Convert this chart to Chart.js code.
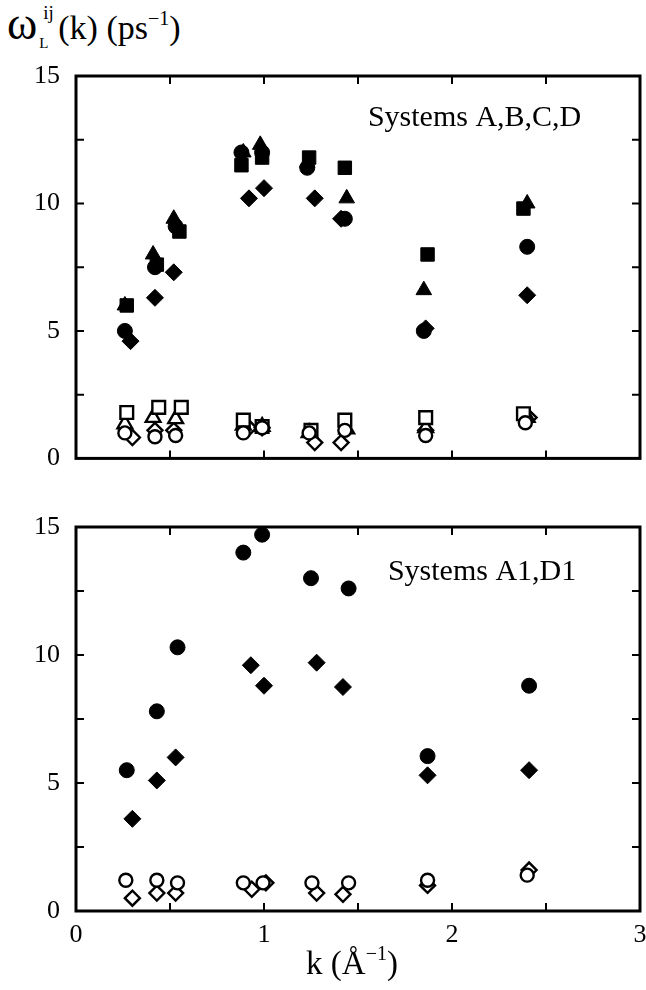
<!DOCTYPE html>
<html lang="en">
<head>
<meta charset="UTF-8">
<title>omega_L(k)</title>
<style>
  body { margin: 0; background: #fff; }
  .wrap { position: relative; width: 646px; height: 990px; font-family: "Liberation Serif", serif; color: #000; }
  canvas { position: absolute; left: 0; }
  #c1 { top: 0; }
  #c2 { top: 490px; }
  .ylab { position: absolute; left: 7px; top: 5px; font-size: 34px; white-space: nowrap; }
  .ylab .om { font-size: 46px; line-height: 34px; }
  .ss { display: inline-block; position: relative; width: 21px; height: 1em; }
  .ss .sp { position: absolute; left: 6px; top: -3px; font-size: 19px; }
  .ss .sb { position: absolute; left: 2px; top: 30px; font-size: 15px; }
  .ylab sup { font-size: 20px; vertical-align: 14px; }
  .xlab { position: absolute; left: 0; width: 704px; text-align: center; top: 942px; font-size: 33px; }
  .xlab sup { font-size: 20px; vertical-align: 14px; }
</style>
</head>
<body>
<div class="wrap">
  <div class="ylab"><span class="om">ω</span><span class="ss"><span class="sp">ij</span><span class="sb">L</span></span>(k) (ps<sup>−1</sup>)</div>
  <canvas id="c1" width="646" height="490"></canvas>
  <canvas id="c2" width="646" height="500"></canvas>
  <div class="xlab">k (Å<sup>−1</sup>)</div>
</div>

<script src="https://cdn.jsdelivr.net/npm/chart.js"></script>
<script>
  // axis ticks
  const xTicks = [0, 0.5, 1, 1.5, 2, 2.5, 3];
  const yTicks = [0, 2.5, 5, 7.5, 10, 12.5, 15];

  // top panel: systems A,B,C,D (filled and open symbols)
  const kFilledCircle = [0.26, 0.42, 0.53, 0.88, 0.99, 1.23, 1.43, 1.85, 2.40];
  const wFilledCircle = [5.0, 7.5, 9.1, 12.0, 12.0, 11.4, 9.4, 5.0, 8.3];
  const kFilledSquare = [0.27, 0.43, 0.55, 0.88, 0.99, 1.24, 1.43, 1.87, 2.38];
  const wFilledSquare = [6.0, 7.6, 8.9, 11.5, 11.8, 11.8, 11.4, 8.0, 9.8];
  const kFilledTri = [0.26, 0.41, 0.52, 0.89, 0.98, 1.23, 1.44, 1.85, 2.40];
  const wFilledTri = [6.0, 8.0, 9.4, 12.0, 12.3, 11.6, 10.2, 6.6, 10.0];
  const kFilledDiam = [0.29, 0.42, 0.52, 0.92, 1.00, 1.27, 1.41, 1.86, 2.40];
  const wFilledDiam = [4.6, 6.3, 7.3, 10.2, 10.6, 10.2, 9.4, 5.1, 6.4];

  const kOpenCircle = [0.26, 0.42, 0.53, 0.89, 0.99, 1.24, 1.43, 1.86, 2.39];
  const wOpenCircle = [1.0, 0.85, 0.9, 1.0, 1.2, 1.0, 1.1, 0.9, 1.4];
  const kOpenSquare = [0.27, 0.44, 0.56, 0.89, 0.99, 1.25, 1.43, 1.86, 2.38];
  const wOpenSquare = [1.8, 2.0, 2.0, 1.5, 1.25, 1.1, 1.5, 1.6, 1.75];
  const kOpenTri = [0.26, 0.41, 0.53, 0.89, 0.99, 1.24, 1.44, 1.86, 2.40];
  const wOpenTri = [1.35, 1.6, 1.55, 1.3, 1.25, 1.0, 1.15, 1.2, 1.6];
  const kOpenDiam = [0.30, 0.42, 0.52, 0.92, 0.99, 1.27, 1.41, 1.86, 2.41];
  const wOpenDiam = [0.82, 1.1, 1.1, 1.2, 1.2, 0.62, 0.62, 1.1, 1.6];

  // bottom panel: systems A1,D1
  const kA1Filled = [0.27, 0.43, 0.54, 0.89, 0.99, 1.25, 1.45, 1.87, 2.41];
  const wA1Filled = [5.5, 7.8, 10.3, 14.0, 14.7, 13.0, 12.6, 6.05, 8.8];
  const kD1Filled = [0.30, 0.43, 0.53, 0.93, 1.00, 1.28, 1.42, 1.87, 2.41];
  const wD1Filled = [3.6, 5.1, 6.0, 9.6, 8.8, 9.7, 8.75, 5.3, 5.5];
  const kA1Open = [0.265, 0.43, 0.54, 0.89, 0.995, 1.255, 1.45, 1.87, 2.40];
  const wA1Open = [1.2, 1.2, 1.1, 1.1, 1.1, 1.1, 1.1, 1.2, 1.4];
  const kD1Open = [0.30, 0.43, 0.53, 0.935, 1.01, 1.28, 1.42, 1.87, 2.41];
  const wD1Open = [0.5, 0.7, 0.7, 0.85, 1.1, 0.7, 0.65, 1.0, 1.6];

  const FONT = "'Liberation Serif', 'Times New Roman', serif";

  const pts = (ks, ws) => ks.map((k, i) => ({ x: k, y: ws[i] }));

  const series = (ks, ws, style, radius, filled) => ({
    data: pts(ks, ws),
    pointStyle: style,
    pointRadius: radius,
    pointHoverRadius: radius,
    pointBackgroundColor: filled ? '#000' : '#fff',
    pointBorderColor: '#000',
    pointBorderWidth: filled ? 1 : 2.4,
    showLine: false
  });

  // frame with inward ticks on all four sides
  const framePlugin = {
    id: 'frame',
    beforeDatasetsDraw(chart) {
      const { ctx, chartArea: a, scales: { x, y } } = chart;
      ctx.save();
      ctx.strokeStyle = '#000';
      ctx.lineWidth = 2;
      xTicks.forEach(v => {
        if (v <= 0 || v >= 3) return;
        const px = x.getPixelForValue(v);
        ctx.beginPath();
        ctx.moveTo(px, a.bottom); ctx.lineTo(px, a.bottom - 8);
        ctx.moveTo(px, a.top); ctx.lineTo(px, a.top + 8);
        ctx.stroke();
      });
      yTicks.forEach(v => {
        if (v <= 0 || v >= 15) return;
        const py = y.getPixelForValue(v);
        ctx.beginPath();
        ctx.moveTo(a.left, py); ctx.lineTo(a.left + 8, py);
        ctx.moveTo(a.right, py); ctx.lineTo(a.right - 8, py);
        ctx.stroke();
      });
      ctx.lineWidth = 3;
      ctx.strokeRect(a.left, a.top, a.right - a.left, a.bottom - a.top);
      ctx.restore();
    }
  };

  // "Systems ..." note inside the plot
  const notePlugin = {
    id: 'note',
    afterDatasetsDraw(chart, args, opts) {
      if (!opts.text) return;
      const { ctx, scales: { x, y } } = chart;
      ctx.save();
      ctx.fillStyle = '#000';
      ctx.font = '30px ' + FONT;
      ctx.textAlign = 'center';
      ctx.textBaseline = 'middle';
      ctx.fillText(opts.text, x.getPixelForValue(opts.x), y.getPixelForValue(opts.y));
      ctx.restore();
    }
  };

  const createChart = (id, datasets, cfg) => {
    return new Chart(document.getElementById(id), {
      type: 'scatter',
      data: { datasets: datasets },
      plugins: [framePlugin, notePlugin],
      options: {
        responsive: false,
        animation: false,
        events: [],
        layout: { autoPadding: false, padding: { top: cfg.top, right: 6, bottom: 0, left: 0 } },
        plugins: {
          legend: { display: false },
          tooltip: { enabled: false },
          note: cfg.note
        },
        scales: {
          x: {
            type: 'linear', min: 0, max: 3,
            afterBuildTicks: s => { s.ticks = xTicks.map(v => ({ value: v })); },
            afterFit: s => { s.height = cfg.xh; s.paddingLeft = 0; s.paddingRight = 0; },
            grid: { display: false, drawTicks: false },
            border: { display: false },
            ticks: {
              display: cfg.xLabels,
              padding: 9,
              color: '#000',
              font: { family: FONT, size: 26 },
              maxRotation: 0,
              autoSkip: false,
              callback: v => (Number.isInteger(v) ? String(v) : '')
            }
          },
          y: {
            type: 'linear', min: 0, max: 15,
            afterBuildTicks: s => { s.ticks = yTicks.map(v => ({ value: v })); },
            afterFit: s => { s.width = 76; },
            grid: { display: false, drawTicks: false },
            border: { display: false },
            ticks: {
              padding: 16,
              color: '#000',
              font: { family: FONT, size: 26 },
              autoSkip: false,
              callback: v => (v % 5 === 0 ? String(v) : '')
            }
          }
        }
      }
    });
  };

  createChart('c1', [
    series(kFilledCircle, wFilledCircle, 'circle', 7.5, true),
    series(kFilledSquare, wFilledSquare, 'rect', 9.5, true),
    series(kFilledTri, wFilledTri, 'triangle', 9, true),
    series(kFilledDiam, wFilledDiam, 'rectRot', 8.5, true),
    series(kOpenCircle, wOpenCircle, 'circle', 6.5, false),
    series(kOpenSquare, wOpenSquare, 'rect', 9, false),
    series(kOpenTri, wOpenTri, 'triangle', 8.5, false),
    series(kOpenDiam, wOpenDiam, 'rectRot', 7.5, false)
  ], { top: 76, xh: 31, xLabels: false, note: { text: 'Systems A,B,C,D', x: 2.12, y: 13.35 } });

  createChart('c2', [
    series(kA1Filled, wA1Filled, 'circle', 7.5, true),
    series(kD1Filled, wD1Filled, 'rectRot', 8.5, true),
    series(kA1Open, wA1Open, 'circle', 6.5, false),
    series(kD1Open, wD1Open, 'rectRot', 7.5, false)
  ], { top: 37, xh: 79, xLabels: true, note: { text: 'Systems A1,D1', x: 2.16, y: 13.25 } });
</script>
</body>
</html>
